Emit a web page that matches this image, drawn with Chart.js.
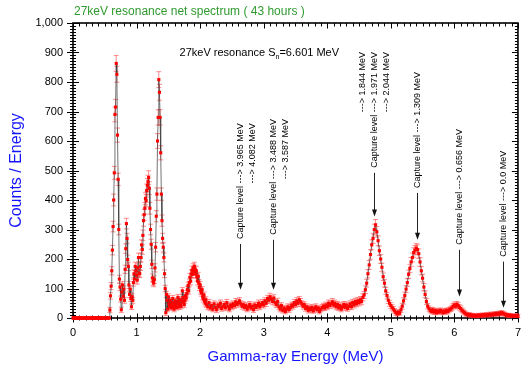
<!DOCTYPE html>
<html lang="en">
<head>
<meta charset="UTF-8">
<title>27keV resonance net spectrum</title>
<script src="https://cdn.jsdelivr.net/npm/chart.js@4.4.1/dist/chart.umd.min.js"></script>
<style>
  body { margin: 0; background: #fff; }
  .wrap { width: 529px; height: 368px; }
</style>
</head>
<body>
<div class="wrap"><canvas id="spectrum"></canvas></div>
<script>
// low energy part: 0.01 MeV bins from 0.00 MeV
const lowStart = 0.00, lowStep = 0.01;
const lowCounts = [
  0, 0, 0, 0, 0, 0, 0, 0, 0, 0,
  0, 0, 0, 0, 0, 0, 0, 0, 0, 0,
  0, 0, 0, 0, 0, 0, 0, 0, 0, 0,
  0, 0, 0, 0, 0, 0, 0, 0, 0, 0,
  0, 0, 0, 0, 0, 0, 0, 0, 0, 0,
  0, 0, 0, 0, 0, 0, 0, 0, 27, 75,
  108, 160, 230, 310, 400, 492, 690, 715, 863, 826,
  620, 470, 300, 132, 105, 64, 28, 88, 112, 74,
  98, 60, 165, 235, 320, 270, 198, 175, 112, 80,
  98, 66, 38, 72, 60, 120, 150, 132, 175, 160,
  145, 128, 170, 205, 152, 150, 175, 205, 248, 232,
  280, 330, 350, 372, 405, 398, 432, 450, 462, 476,
  440, 372, 300, 250, 182, 136, 124, 118, 130, 170,
  240, 345, 420, 600, 680, 808, 765, 680, 560, 420,
  330, 270, 240, 205, 150, 100, 18, 80, 60, 30,
  72, 48, 38, 60, 44, 35, 52, 66, 40, 30,
  48, 58, 42, 36, 55, 70, 50, 38, 62, 46,
  40, 58, 92, 70, 54, 45, 60, 75, 68, 82,
  96, 110, 92, 120, 138, 125, 150, 162, 148, 170,
  158, 175, 165, 150, 160, 138, 125, 142, 118, 104,
  112, 92, 85, 96, 72, 64, 78, 58, 50, 62
];
const lowErrors = [
  0, 0, 0, 0, 0, 0, 0, 0, 0, 0,
  0, 0, 0, 0, 0, 0, 0, 0, 0, 0,
  0, 0, 0, 0, 0, 0, 0, 0, 0, 0,
  0, 0, 0, 0, 0, 0, 0, 0, 0, 0,
  0, 0, 0, 0, 0, 0, 0, 0, 0, 0,
  0, 0, 0, 0, 0, 0, 0, 0, 9, 11,
  12, 14, 16, 18, 20, 22, 25, 26, 27, 27,
  24, 21, 18, 13, 12, 10, 9, 11, 12, 10,
  11, 10, 14, 16, 18, 17, 15, 14, 12, 11,
  11, 10, 9, 10, 10, 12, 13, 13, 14, 14,
  13, 13, 14, 15, 13, 13, 14, 15, 17, 16,
  18, 19, 19, 20, 21, 21, 22, 22, 22, 23,
  22, 20, 18, 17, 14, 13, 13, 12, 13, 14,
  16, 19, 21, 25, 26, 27, 27, 26, 24, 21,
  19, 17, 16, 15, 13, 11, 10, 11, 10, 9,
  10, 10, 9, 10, 10, 9, 10, 10, 9, 9,
  10, 10, 9, 9, 10, 10, 10, 9, 10, 10,
  9, 10, 11, 10, 10, 10, 10, 11, 10, 11,
  11, 12, 11, 12, 13, 13, 13, 14, 13, 14,
  14, 14, 14, 13, 14, 13, 13, 13, 12, 11,
  12, 11, 11, 11, 10, 10, 10, 10, 10, 10
];

// high energy part: 0.02 MeV bins from 2.10 MeV
const highStart = 2.10, highStep = 0.02;
const highCounts = [
  45, 38, 52, 34, 42, 30, 48, 36, 28, 44,
  38, 50, 32, 40, 46, 35, 52, 40, 30, 44,
  38, 48, 42, 55, 46, 52, 58, 48, 40, 45,
  36, 42, 30, 38, 46, 34, 40, 28, 44, 36,
  42, 50, 38, 46, 52, 44, 58, 50, 66, 60,
  72, 64, 56, 68, 52, 45, 56, 38, 30, 42,
  26, 34, 22, 30, 38, 28, 36, 44, 40, 52,
  46, 58, 50, 62, 55, 48, 40, 45, 32, 38,
  26, 34, 28, 36, 24, 32, 38, 28, 34, 22,
  30, 36, 40, 34, 44, 38, 50, 42, 48, 55,
  44, 50, 38, 46, 34, 42, 30, 38, 46, 36,
  44, 32, 40, 48, 38, 52, 44, 56, 48, 58,
  52, 62, 56, 70, 78, 96, 118, 150, 180, 215,
  248, 270, 300, 316, 292, 262, 228, 200, 172, 140,
  118, 92, 76, 60, 50, 42, 36, 30, 24, 18,
  14, 20, 16, 28, 40, 58, 76, 98, 120, 148,
  168, 190, 205, 222, 230, 237, 232, 218, 190, 160,
  135, 105, 80, 56, 40, 32, 26, 22, 28, 20,
  25, 18, 24, 20, 26, 22, 18, 24, 20, 26,
  22, 28, 30, 34, 40, 44, 40, 46, 42, 36,
  32, 26, 22, 18, 14, 12, 10, 12, 8, 10,
  7, 9, 6, 8, 10, 7, 9, 11, 8, 10,
  12, 9, 11, 13, 10, 12, 14, 12, 15, 13,
  16, 14, 18, 16, 14, 12, 10, 8, 10, 7,
  9, 6, 8, 7, 9, 6
];
const highErrors = [
  10, 10, 11, 9, 10, 9, 10, 10, 9, 10,
  10, 11, 9, 10, 10, 10, 11, 10, 9, 10,
  10, 10, 10, 11, 10, 11, 11, 10, 10, 10,
  10, 10, 9, 10, 10, 9, 10, 9, 10, 10,
  10, 11, 10, 10, 11, 10, 11, 11, 11, 11,
  12, 11, 11, 11, 11, 10, 11, 10, 9, 10,
  9, 9, 8, 9, 10, 9, 10, 10, 10, 11,
  10, 11, 11, 11, 11, 10, 10, 10, 9, 10,
  9, 9, 9, 10, 8, 9, 10, 9, 9, 8,
  9, 10, 10, 9, 10, 10, 11, 10, 10, 11,
  10, 11, 10, 10, 9, 10, 9, 10, 10, 10,
  10, 9, 10, 10, 10, 11, 10, 11, 10, 11,
  11, 11, 11, 12, 12, 13, 13, 14, 15, 16,
  17, 17, 18, 18, 18, 17, 16, 15, 14, 13,
  13, 12, 11, 11, 10, 10, 9, 9, 8, 8,
  7, 8, 7, 9, 10, 11, 12, 12, 13, 14,
  14, 15, 15, 16, 16, 16, 16, 16, 15, 14,
  13, 12, 11, 10, 9, 9, 8, 8, 8, 8,
  8, 7, 8, 7, 8, 8, 7, 8, 7, 8,
  8, 8, 8, 9, 9, 10, 9, 10, 10, 9,
  9, 8, 8, 7, 7, 6, 6, 6, 6, 6,
  5, 6, 5, 6, 6, 5, 6, 6, 6, 6,
  6, 6, 6, 7, 6, 6, 7, 6, 7, 7,
  7, 7, 7, 7, 7, 6, 6, 6, 6, 5,
  6, 5, 5, 5, 6, 5
];

// capture level labels: energy of the arrow, count where the text ends, count at the arrow tip
const captureLabels = [
  { energy: 2.623, lines: ['Capture level ---> 3.965 MeV', '---> 4.082 MeV'], main: 0, textAt: 268, tipAt: 96 },
  { energy: 3.143, lines: ['Capture level ---> 3.488 MeV', '---> 3.587 MeV'], main: 0, textAt: 282, tipAt: 96 },
  { energy: 4.736, lines: ['---> 1.844 MeV', 'Capture level ---> 1.971 MeV', '---> 2.044 MeV'], main: 1, textAt: 509, tipAt: 344 },
  { energy: 5.412, lines: ['Capture level ---> 1.309 MeV'], main: 0, textAt: 441, tipAt: 265 },
  { energy: 6.074, lines: ['Capture level ---> 0.656 MeV'], main: 0, textAt: 248, tipAt: 73 },
  { energy: 6.760, lines: ['Capture level ---> 0.0 MeV'], main: 0, textAt: 208, tipAt: 35 }
];

const FONT = '"Liberation Sans", Arial, sans-serif';
Chart.defaults.font.family = FONT;

const points = [];
lowCounts.forEach((c, i) => points.push({ x: +(lowStart + i * lowStep).toFixed(2), y: c, err: lowErrors[i] }));
highCounts.forEach((c, i) => points.push({ x: +(highStart + i * highStep).toFixed(2), y: c, err: highErrors[i] }));

// frame with ticks on all four sides (crossing ticks on left/bottom)
const frame = {
  id: 'frame',
  beforeDatasetsDraw(chart) {
    const { ctx, chartArea: a, scales: { x, y } } = chart;
    ctx.save();
    ctx.strokeStyle = '#000';
    ctx.lineWidth = 1;
    ctx.beginPath();
    for (let v = 0; v <= 1000; v += 10) {
      const py = Math.round(y.getPixelForValue(v)) + 0.5;
      const major = v % 100 === 0;
      const l = major ? 6 : 3;
      ctx.moveTo(a.left - l, py); ctx.lineTo(a.left + l, py);
      ctx.moveTo(a.right - l, py); ctx.lineTo(a.right, py);
    }
    for (let i = 0; i <= 70; i++) {
      const px = Math.round(x.getPixelForValue(i / 10)) + 0.5;
      const major = i % 10 === 0;
      const l = major ? 4.5 : 2.5;
      ctx.moveTo(px, a.bottom - l); ctx.lineTo(px, a.bottom + l);
      ctx.moveTo(px, a.top); ctx.lineTo(px, a.top + l + 1);
    }
    ctx.stroke();
    ctx.lineWidth = 1.6;
    ctx.strokeRect(a.left, a.top, a.right - a.left, a.bottom - a.top);
    ctx.restore();
  }
};

const errorBars = {
  id: 'errorBars',
  beforeDatasetsDraw(chart) {
    const { ctx, scales: { x, y } } = chart;
    ctx.save();
    ctx.strokeStyle = 'rgba(255, 50, 50, 0.55)';
    ctx.lineWidth = 1;
    ctx.beginPath();
    chart.data.datasets[0].data.forEach(p => {
      if (!p.err) return;
      const px = x.getPixelForValue(p.x);
      const top = y.getPixelForValue(p.y + p.err);
      const bot = y.getPixelForValue(Math.max(0, p.y - p.err));
      ctx.moveTo(px, top); ctx.lineTo(px, bot);
      ctx.moveTo(px - 2.5, top); ctx.lineTo(px + 2.5, top);
      ctx.moveTo(px - 2.5, bot); ctx.lineTo(px + 2.5, bot);
    });
    ctx.stroke();
    ctx.restore();
  }
};

const labels = {
  id: 'labels',
  afterDraw(chart) {
    const { ctx, chartArea: a, scales: { x, y } } = chart;
    ctx.save();
    // title
    ctx.fillStyle = '#2f9a2f';
    ctx.font = '12px ' + FONT;
    ctx.textBaseline = 'middle';
    ctx.textAlign = 'left';
    ctx.fillText('27keV resonance net spectrum ( 43 hours )', a.left + 1, 12);

    // separation energy note
    ctx.fillStyle = '#000';
    let tx = x.getPixelForValue(1.676), ty = y.getPixelForValue(898);
    ctx.font = '11px ' + FONT;
    const part1 = '27keV resonance S';
    ctx.fillText(part1, tx, ty);
    tx += ctx.measureText(part1).width;
    ctx.font = '7px ' + FONT;
    ctx.fillText('n', tx, ty + 4);
    tx += ctx.measureText('n').width;
    ctx.font = '11px ' + FONT;
    ctx.fillText('=6.601 MeV', tx, ty);

    // capture level arrows
    ctx.font = '9px ' + FONT;
    captureLabels.forEach(c => {
      const px = Math.round(x.getPixelForValue(c.energy)) + 0.5;
      const pyText = y.getPixelForValue(c.textAt);
      const pyTip = y.getPixelForValue(c.tipAt);
      ctx.save();
      ctx.translate(px, pyText);
      ctx.rotate(-Math.PI / 2);
      ctx.fillStyle = '#000';
      ctx.textAlign = 'right';
      ctx.textBaseline = 'middle';
      const w = ctx.measureText(c.lines[c.main]).width;
      c.lines.forEach((line, i) => ctx.fillText(line, w, (i - c.main) * 12));
      ctx.restore();
      ctx.strokeStyle = '#222';
      ctx.lineWidth = 1;
      ctx.beginPath();
      ctx.moveTo(px, pyText + 5);
      ctx.lineTo(px, pyTip - 5);
      ctx.stroke();
      ctx.fillStyle = '#111';
      ctx.beginPath();
      ctx.moveTo(px, pyTip);
      ctx.lineTo(px - 2.5, pyTip - 7);
      ctx.lineTo(px + 2.5, pyTip - 7);
      ctx.closePath();
      ctx.fill();
    });
    ctx.restore();
  }
};

new Chart(document.getElementById('spectrum'), {
  type: 'scatter',
  data: {
    datasets: [{
      data: points,
      showLine: true,
      borderColor: 'rgba(60, 60, 60, 0.9)',
      borderWidth: 0.8,
      pointStyle: 'rect',
      pointRadius: 2.2,
      pointBackgroundColor: '#ff0000',
      pointBorderWidth: 0,
      clip: false
    }]
  },
  options: {
    responsive: true,
    maintainAspectRatio: false,
    animation: false,
    layout: { padding: { left: 3, right: 7.5, top: 23, bottom: 0 } },
    plugins: { legend: { display: false }, tooltip: { enabled: false } },
    scales: {
      x: {
        type: 'linear', min: 0, max: 7,
        grid: { display: false, drawTicks: false },
        border: { display: false },
        ticks: { stepSize: 1, padding: 8, color: '#000', font: { size: 11 } },
        title: { display: true, text: 'Gamma-ray Energy (MeV)', color: '#1414ff', font: { size: 15 }, padding: { top: 0, bottom: 2 } },
        afterFit(s) { s.height = 50; }
      },
      y: {
        min: 0, max: 1000,
        grid: { display: false, drawTicks: false },
        border: { display: false },
        ticks: { stepSize: 100, padding: 10, color: '#000', font: { size: 11 },
                 callback: v => v.toLocaleString('en-US') },
        title: { display: true, text: 'Counts / Energy', color: '#1414ff', font: { size: 16 }, padding: { top: 4, bottom: 0 } },
        afterFit(s) { s.width = 70; }
      }
    }
  },
  plugins: [frame, errorBars, labels]
});
</script>
</body>
</html>
